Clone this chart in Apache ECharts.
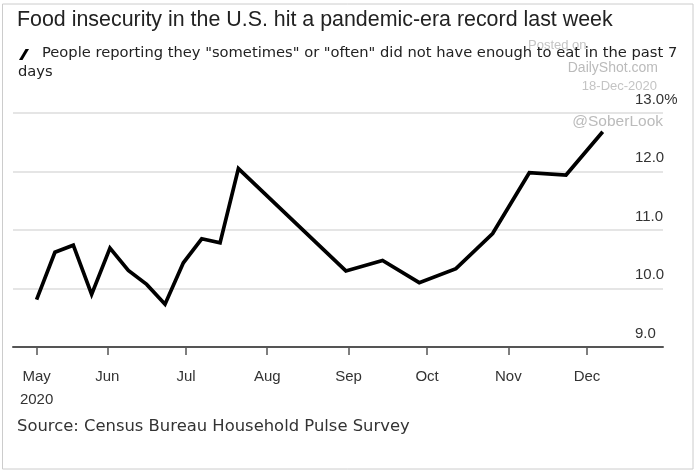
<!DOCTYPE html>
<html>
<head>
<meta charset="utf-8">
<script src="https://cdn.jsdelivr.net/npm/echarts@6/dist/echarts.min.js"></script>
<style>html,body{margin:0;padding:0;background:#fff;}#c{width:696px;height:471px;}</style>
</head>
<body>
<div id="c"></div>
<script>
// Survey week end dates (Household Pulse Survey)
const surveyDates = ['2020-05-05','2020-05-12','2020-05-19','2020-05-26','2020-06-02','2020-06-09','2020-06-16','2020-06-23','2020-06-30','2020-07-07','2020-07-14','2020-07-21','2020-08-31','2020-09-14','2020-09-28','2020-10-12','2020-10-26','2020-11-09','2020-11-23','2020-12-07'];
// Share of people reporting they "sometimes" or "often" did not have enough to eat (%)
const insecurity = [9.81,10.62,10.74,9.90,10.69,10.31,10.07,9.73,10.44,10.85,10.78,12.05,10.30,10.48,10.10,10.34,10.94,11.98,11.94,12.68];
// X axis range and tick labels
const axisStart = '2020-04-26';
const axisEnd = '2020-12-30';
const tickDates = ['2020-05-05','2020-06-01','2020-07-01','2020-08-01','2020-09-01','2020-10-01','2020-11-01','2020-12-01'];
const tickLabels = ['May\n2020','Jun','Jul','Aug','Sep','Oct','Nov','Dec'];
// Y axis ticks
const yMin = 9, yMax = 13, yStep = 1;

const seriesName = 'People reporting they "sometimes" or "often" did not have enough to eat in the past 7 days';

// daily categories
const cats = [];
(function(){
  let d = new Date(axisStart + 'T00:00:00Z');
  const end = new Date(axisEnd + 'T00:00:00Z');
  while (d <= end) {
    cats.push(d.toISOString().slice(0,10));
    d = new Date(d.getTime() + 86400000);
  }
})();

const lineData = surveyDates.map((d,i) => [cats.indexOf(d), insecurity[i]]);
const isTick = (idx, val) => tickDates.indexOf(cats[idx]) >= 0;

const FONT = 'Liberation Sans';
const WIDE = 'DejaVu Sans';
const chart = echarts.init(document.getElementById('c'), null, {renderer:'canvas'});
chart.setOption({
  animation: false,
  backgroundColor: '#fff',
  textStyle: {fontFamily: FONT},
  title: [
    {
      text: 'Food insecurity in the U.S. hit a pandemic-era record last week',
      left: 12, top: 5,
      textStyle: {fontFamily: FONT, fontSize: 21.4, fontWeight: 'normal', color: '#222'}
    },
    {
      text: '{sp| }' + 'People reporting they "sometimes" or "often" did not have enough to eat in the past 7\ndays',
      left: 13, top: 39,
      textStyle: {
        fontFamily: WIDE, fontSize: 14.7, fontWeight: 'normal', color: '#222', lineHeight: 19,
        rich: {sp: {width: 24, fontSize: 14.7}}
      }
    },
    {
      text: 'Source: Census Bureau Household Pulse Survey',
      left: 12, top: 414,
      textStyle: {fontFamily: WIDE, fontSize: 16.4, fontWeight: 'normal', color: '#333'}
    }
  ],
  legend: {
    left: 14, top: 44,
    itemWidth: 10, itemHeight: 11,
    icon: 'path://M0,11 L3.5,11 L10,0 L6.5,0 Z',
    selectedMode: false,
    formatter: () => '',
    data: [seriesName],
    itemGap: 0
  },
  grid: {left: 13, right: 33, top: 113, bottom: 124},
  xAxis: {
    type: 'category',
    data: cats,
    boundaryGap: false,
    axisLine: {lineStyle: {color: '#555', width: 2}},
    axisTick: {show: true, interval: isTick, length: 8, lineStyle: {color: '#555', width: 1.5}},
    axisLabel: {
      interval: isTick,
      formatter: (v) => tickLabels[tickDates.indexOf(v)],
      fontFamily: FONT, fontSize: 15, color: '#333', lineHeight: 23, margin: 18
    },
    splitLine: {show: false}
  },
  yAxis: {
    type: 'value',
    position: 'right',
    min: yMin, max: yMax, interval: yStep,
    axisLine: {show: false},
    axisTick: {show: false},
    axisLabel: {
      inside: true, margin: 28, align: 'left', verticalAlign: 'bottom',
      padding: [0,0,6,0],
      fontFamily: FONT, fontSize: 15, color: '#333',
      formatter: (v) => v === yMax ? v.toFixed(1) + '%' : v.toFixed(1)
    },
    splitLine: {lineStyle: {color: '#ddd', width: 1.5}}
  },
  series: [{
    name: seriesName,
    type: 'line',
    data: lineData,
    symbol: 'none',
    lineStyle: {color: '#000', width: 3.7, join: 'miter'},
    itemStyle: {color: '#000'},
    z: 5
  }],
  graphic: [
    {type: 'rect', silent: true, z: -10, shape: {x: 2.5, y: 4, width: 690.5, height: 465}, style: {fill: 'none', stroke: '#ccc', lineWidth: 1}},
    {type: 'text', silent: true, z: -5, left: 528, top: 39, style: {text: 'Posted on', fill: '#c4c4c4', fontSize: 13, fontFamily: FONT}},
    {type: 'text', silent: true, z: -5, right: 38, top: 61, style: {text: 'DailyShot.com', fill: '#bbb', fontSize: 14, fontFamily: FONT}},
    {type: 'text', silent: true, z: -5, right: 39, top: 80, style: {text: '18-Dec-2020', fill: '#c4c4c4', fontSize: 13, fontFamily: FONT}},
    {type: 'text', silent: true, z: -5, right: 33, top: 114, style: {text: '@SoberLook', fill: '#bbb', fontSize: 15.5, fontFamily: FONT}}
  ]
});
</script>
</body>
</html>
